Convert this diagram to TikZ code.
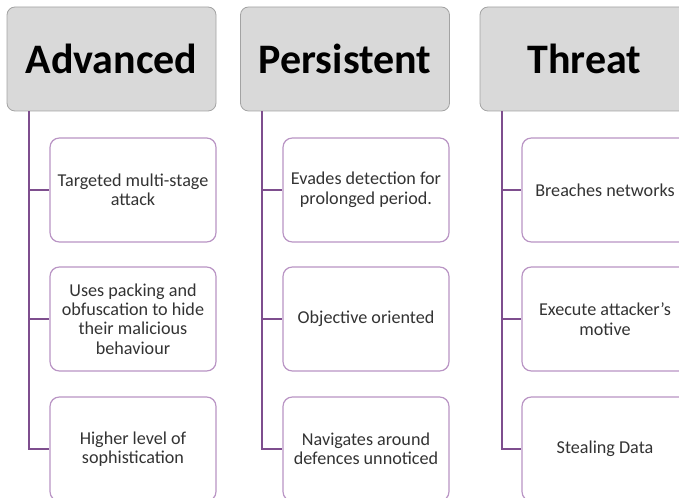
\documentclass[tikz,border=0pt]{standalone}
\usepackage{fontspec}
\setmainfont{Carlito}
\definecolor{headgray}{HTML}{D9D9D9}
\definecolor{headedge}{HTML}{A3A3A3}
\definecolor{itemedge}{HTML}{B994C4}
\definecolor{itemtext}{HTML}{333333}
\definecolor{trunkline}{HTML}{7E4E8E}
\tikzset{
  headbox/.style={draw=headedge, fill=headgray, rounded corners=6pt, line width=0.6pt,
    minimum width=156.75pt, minimum height=78pt, inner sep=0pt,
    font=\bfseries\fontsize{31.5}{36}\selectfont},
  itembox/.style={draw=itemedge, fill=white, rounded corners=7pt, line width=0.9pt,
    minimum width=124.5pt, minimum height=78pt, inner sep=0pt, align=center,
    text=itemtext, font=\fontsize{13.6}{14.6}\selectfont},
  trunk/.style={draw=trunkline, line width=1.6pt}
}
\begin{document}
\begin{tikzpicture}[x=0.75pt,y=-0.75pt]
\useasboundingbox (0,0) rectangle (679,498);
\clip (0,0) rectangle (679,498);

\node[headbox] (hA) at (111.5,59) {Advanced};
\node[headbox] (hP) at (345,59) {Persistent};
\node[headbox] (hT) at (584.5,59) {Threat};

\node[itembox] (a1) at (133,190) {Targeted multi-stage\\attack};
\node[itembox] (a2) at (133,319) {Uses packing and\\obfuscation to hide\\their malicious\\behaviour};
\node[itembox] (a3) at (133,449) {Higher level of\\sophistication};

\node[itembox] (p1) at (366,190) {Evades detection for\\prolonged period.};
\node[itembox] (p2) at (366,319) {Objective oriented};
\node[itembox] (p3) at (366,449) {Navigates around\\defences unnoticed};

\node[itembox] (t1) at (605,190) {Breaches networks};
\node[itembox] (t2) at (605,319) {Execute attacker’s\\motive};
\node[itembox] (t3) at (605,449) {Stealing Data};

\coordinate (tA) at ([xshift=16.5pt]hA.south west);
\coordinate (tP) at ([xshift=16.5pt]hP.south west);
\coordinate (tT) at ([xshift=16.5pt]hT.south west);

\draw[trunk] (tA) |- (a3.west);
\draw[trunk] (tA |- a1.west) -- (a1.west);
\draw[trunk] (tA |- a2.west) -- (a2.west);

\draw[trunk] (tP) |- (p3.west);
\draw[trunk] (tP |- p1.west) -- (p1.west);
\draw[trunk] (tP |- p2.west) -- (p2.west);

\draw[trunk] (tT) |- (t3.west);
\draw[trunk] (tT |- t1.west) -- (t1.west);
\draw[trunk] (tT |- t2.west) -- (t2.west);
\end{tikzpicture}
\end{document}
